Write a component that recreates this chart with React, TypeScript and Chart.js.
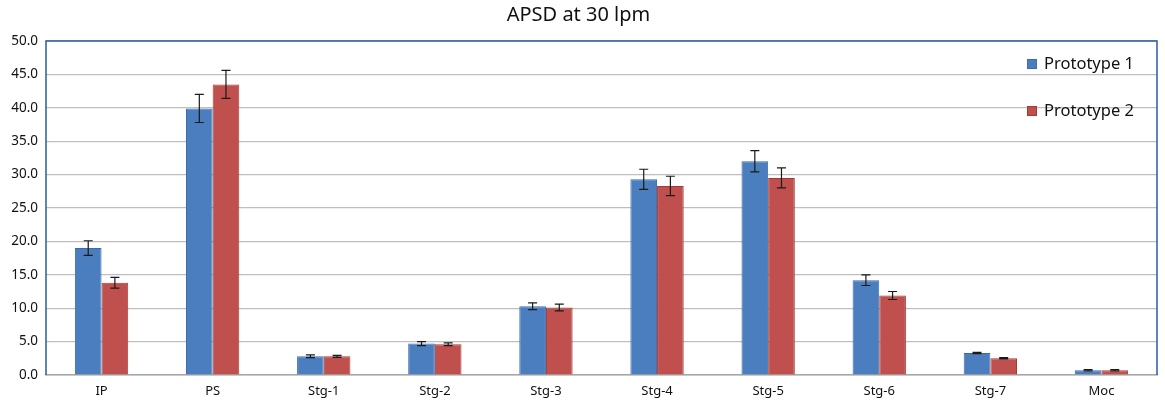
import React, { useEffect, useRef } from "react";
import { Chart, registerables } from "chart.js";

Chart.register(...registerables);

const categories = ["IP", "PS", "Stg-1", "Stg-2", "Stg-3", "Stg-4", "Stg-5", "Stg-6", "Stg-7", "Moc"];
const prototype1 = [19.0, 39.9, 2.8, 4.7, 10.3, 29.3, 32.0, 14.2, 3.3, 0.7];
const prototype1Err = [1.1, 2.1, 0.2, 0.3, 0.5, 1.5, 1.6, 0.8, 0.1, 0.1];
const prototype2 = [13.8, 43.5, 2.8, 4.6, 10.1, 28.3, 29.5, 11.9, 2.5, 0.7];
const prototype2Err = [0.8, 2.1, 0.15, 0.2, 0.5, 1.45, 1.5, 0.6, 0.1, 0.1];
const seriesNames = ["Prototype 1", "Prototype 2"];
const titleText = "APSD at 30 lpm";

const FONT = "'Noto Sans', 'Open Sans', sans-serif";

const errorBarPlugin = {
  id: "errorBars",
  afterDatasetsDraw(chart: any) {
    const ctx = chart.ctx;
    const yScale = chart.scales.y;
    const errs = [prototype1Err, prototype2Err];
    ctx.save();
    ctx.strokeStyle = "#1a1a1a";
    ctx.lineWidth = 1.2;
    chart.data.datasets.forEach((ds: any, di: number) => {
      const meta = chart.getDatasetMeta(di);
      meta.data.forEach((bar: any, i: number) => {
        const v = ds.data[i];
        const e = errs[di][i];
        const x = bar.x;
        const yHi = yScale.getPixelForValue(v + e);
        const yLo = yScale.getPixelForValue(v - e);
        const cap = 4.5;
        ctx.beginPath();
        ctx.moveTo(x, yHi);
        ctx.lineTo(x, yLo);
        ctx.moveTo(x - cap, yHi);
        ctx.lineTo(x + cap, yHi);
        ctx.moveTo(x - cap, yLo);
        ctx.lineTo(x + cap, yLo);
        ctx.stroke();
      });
    });
    ctx.restore();
  },
};

const frameAndLegendPlugin = {
  id: "frameLegend",
  beforeDatasetsDraw(chart: any) {
    const { ctx, chartArea } = chart;
    ctx.save();
    ctx.strokeStyle = "#2E5C9E";
    ctx.lineWidth = 1.5;
    ctx.beginPath();
    ctx.moveTo(chartArea.left, chartArea.bottom);
    ctx.lineTo(chartArea.left, chartArea.top);
    ctx.lineTo(chartArea.right, chartArea.top);
    ctx.lineTo(chartArea.right, chartArea.bottom);
    ctx.stroke();
    ctx.restore();
  },
  afterDraw(chart: any) {
    const { ctx, chartArea } = chart;
    ctx.save();
    ctx.font = `16.5px ${FONT}`;
    ctx.textBaseline = "middle";
    ctx.textAlign = "left";
    chart.data.datasets.forEach((ds: any, i: number) => {
      const cy = chartArea.top + 23 + i * 47;
      const sx = chartArea.right - 130;
      ctx.fillStyle = ds.backgroundColor;
      ctx.fillRect(sx, cy - 5, 10, 10);
      ctx.strokeStyle = ds.borderColor;
      ctx.lineWidth = 1;
      ctx.strokeRect(sx + 0.5, cy - 4.5, 9, 9);
      ctx.fillStyle = "#111";
      ctx.fillText(ds.label, sx + 17, cy);
    });
    ctx.restore();
  },
};

export default function App() {
  const ref = useRef<HTMLCanvasElement | null>(null);

  useEffect(() => {
    document.body.style.margin = "0";
    if (!ref.current) return;
    const chart = new Chart(ref.current, {
      type: "bar",
      data: {
        labels: categories,
        datasets: [
          {
            label: seriesNames[0],
            data: prototype1,
            backgroundColor: "#4A7EBF",
            borderColor: "#3B6BAA",
            borderWidth: 1,
            barPercentage: 1,
            categoryPercentage: 0.48,
          },
          {
            label: seriesNames[1],
            data: prototype2,
            backgroundColor: "#C0504D",
            borderColor: "#A33A37",
            borderWidth: 1,
            barPercentage: 1,
            categoryPercentage: 0.48,
          },
        ],
      },
      options: {
        responsive: false,
        animation: false,
        devicePixelRatio: 1,
        layout: { padding: { left: 0, right: 8, top: 0, bottom: 0 } },
        plugins: {
          legend: { display: false },
          tooltip: { enabled: false },
          title: {
            display: true,
            text: titleText,
            color: "#111",
            font: { family: FONT, size: 20, weight: "normal" },
            padding: { top: 3, bottom: 14 },
          },
        },
        scales: {
          x: {
            grid: { display: false, drawTicks: false },
            border: { display: true, color: "#A6A6A6", width: 1.5 },
            ticks: {
              color: "#111",
              font: { family: FONT, size: 13 },
              padding: 8,
            },
            afterFit(scale: any) {
              scale.height = 31;
            },
          },
          y: {
            min: 0,
            max: 50,
            grid: { color: "#BFBFBF", lineWidth: 1.2, drawTicks: false },
            border: { display: false },
            ticks: {
              stepSize: 5,
              color: "#111",
              font: { family: FONT, size: 13.5 },
              padding: 8,
              callback: (v: any) => Number(v).toFixed(1),
            },
            afterFit(scale: any) {
              scale.width = 46;
            },
          },
        },
      },
      plugins: [frameAndLegendPlugin, errorBarPlugin],
    });
    return () => chart.destroy();
  }, []);

  return (
    <div style={{ width: 1165, height: 406, background: "#fff" }}>
      <canvas ref={ref} width={1165} height={406} style={{ display: "block" }} />
    </div>
  );
}
